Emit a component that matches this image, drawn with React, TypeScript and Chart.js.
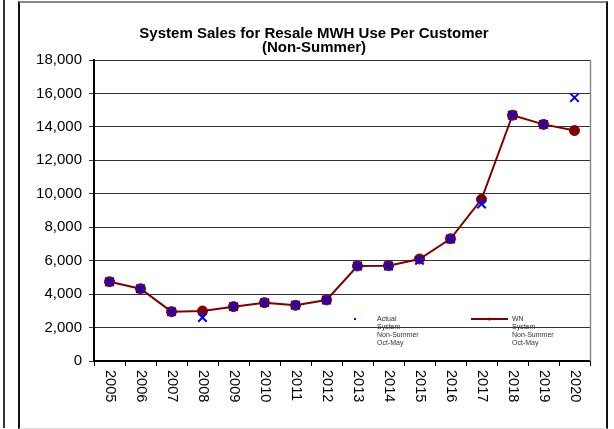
import React, { useEffect, useRef } from 'react';
import { Chart, registerables } from 'chart.js';

Chart.register(...registerables);

const years = ['2005', '2006', '2007', '2008', '2009', '2010', '2011', '2012', '2013', '2014', '2015', '2016', '2017', '2018', '2019', '2020'];
const actualValues = [4740, 4320, 2950, 2600, 3250, 3490, 3330, 3650, 5680, 5680, 6020, 7300, 9390, 14700, 14150, 15750];
const wnValues = [4740, 4320, 2950, 2990, 3250, 3490, 3330, 3650, 5680, 5700, 6100, 7310, 9670, 14700, 14150, 13780];
const yMin = 0;
const yMax = 18000;
const yStep = 2000;
const titleLines = ['System Sales for Resale MWH Use Per Customer', '(Non-Summer)'];
const actualLegend = ['Actual', 'System', 'Non-Summer', 'Oct-May'];
const wnLegend = ['WN', 'System', 'Non-Summer', 'Oct-May'];

const FONT = '"Liberation Sans", Arial, Helvetica, sans-serif';
const ACTUAL_COLOR = '#0000ff';
const WN_COLOR = '#800000';

const overlay = {
  id: 'overlay',
  afterDraw(chart: any) {
    const { ctx, chartArea: a, scales } = chart;
    const x = scales.x;
    ctx.save();
    // right border of plot area
    ctx.strokeStyle = '#8a8a8a';
    ctx.lineWidth = 1.5;
    ctx.beginPath();
    ctx.moveTo(a.right + 0.5, a.top);
    ctx.lineTo(a.right + 0.5, a.bottom);
    ctx.stroke();

    // title
    ctx.fillStyle = '#000';
    ctx.font = `bold 15px ${FONT}`;
    ctx.textAlign = 'center';
    ctx.textBaseline = 'alphabetic';
    titleLines.forEach((t, i) => ctx.fillText(t, 294, 34.5 + i * 14.5));

    // x labels, rotated 90deg clockwise
    ctx.font = `14.5px ${FONT}`;
    years.forEach((lab, i) => {
      const px = x.getPixelForValue(i);
      ctx.save();
      ctx.translate(px, a.bottom + 9);
      ctx.rotate(Math.PI / 2);
      ctx.textAlign = 'left';
      ctx.textBaseline = 'middle';
      ctx.fillText(lab, 0, 0);
      ctx.restore();
    });

    // legend
    const ly = a.top + 259;
    ctx.font = `7px ${FONT}`;
    ctx.textAlign = 'left';
    ctx.textBaseline = 'middle';
    // Actual marker
    ctx.fillStyle = ACTUAL_COLOR;
    ctx.fillRect(a.left + 260, ly - 1, 2, 2);
    ctx.fillStyle = '#333';
    actualLegend.forEach((t, i) => ctx.fillText(t, a.left + 283, ly + i * 8.1));
    // WN marker
    ctx.strokeStyle = WN_COLOR;
    ctx.lineWidth = 2;
    ctx.beginPath();
    ctx.moveTo(a.left + 377, ly);
    ctx.lineTo(a.left + 414, ly);
    ctx.stroke();
    ctx.fillStyle = WN_COLOR;
    ctx.beginPath();
    ctx.arc(a.left + 395.5, ly, 1.5, 0, Math.PI * 2);
    ctx.fill();
    ctx.fillStyle = '#333';
    wnLegend.forEach((t, i) => ctx.fillText(t, a.left + 418, ly + i * 8.1));
    ctx.restore();
  },
};

export default function App() {
  const canvasRef = useRef<HTMLCanvasElement | null>(null);

  useEffect(() => {
    const canvas = canvasRef.current;
    if (!canvas) return;
    const chart = new Chart(canvas, {
      type: 'line',
      data: {
        labels: years,
        datasets: [
          {
            label: 'Actual System Non-Summer Oct-May',
            data: actualValues,
            showLine: false,
            pointStyle: 'crossRot',
            pointRadius: 6,
            pointBorderColor: ACTUAL_COLOR,
            pointBackgroundColor: ACTUAL_COLOR,
            pointBorderWidth: 2,
            borderColor: ACTUAL_COLOR,
            backgroundColor: ACTUAL_COLOR,
          },
          {
            label: 'WN System Non-Summer Oct-May',
            data: wnValues,
            borderColor: WN_COLOR,
            backgroundColor: WN_COLOR,
            borderWidth: 2,
            pointStyle: 'circle',
            pointRadius: 5,
            pointBackgroundColor: WN_COLOR,
            pointBorderColor: WN_COLOR,
            pointBorderWidth: 1,
            tension: 0,
          },
        ],
      },
      options: {
        responsive: false,
        animation: false,
        devicePixelRatio: 1,
        layout: { padding: { top: 57, left: 0, right: 15, bottom: 0 } },
        plugins: {
          legend: { display: false },
          title: { display: false },
          tooltip: { enabled: false },
        },
        scales: {
          x: {
            type: 'category',
            offset: true,
            grid: { offset: true, drawOnChartArea: false, drawTicks: true, tickLength: 5, color: '#000', lineWidth: 1 },
            border: { display: true, color: '#000', width: 2 },
            ticks: { display: false },
            afterFit: (s: any) => { s.height = 67; },
          },
          y: {
            min: yMin,
            max: yMax,
            ticks: {
              stepSize: yStep,
              color: '#000',
              padding: 7,
              font: { family: FONT, size: 15 },
              callback: (v: any) => Number(v).toLocaleString('en-US'),
            },
            grid: { color: '#333', lineWidth: 1, tickLength: 5 },
            border: { display: true, color: '#000', width: 2 },
            afterFit: (s: any) => { s.width = 74; },
          },
        },
      },
      plugins: [overlay],
    } as any);
    return () => chart.destroy();
  }, []);

  return (
    <div style={{ position: 'absolute', left: 0, top: 0, width: 614, height: 429, background: '#fff', overflow: 'hidden' }}>
      <div style={{ position: 'absolute', left: 3, top: 0, width: 2, height: 428, background: '#333' }} />
      <div
        style={{
          position: 'absolute',
          left: 18,
          top: 1,
          width: 590,
          height: 428,
          boxSizing: 'border-box',
          borderLeft: '2px solid #111',
          borderRight: '2px solid #111',
          borderTop: '2px solid #888',
          borderBottom: '1px solid #ddd',
        }}
      />
      <canvas
        ref={canvasRef}
        width={585}
        height={425}
        style={{ position: 'absolute', left: 20, top: 3, width: 585, height: 425, display: 'block' }}
      />
    </div>
  );
}
